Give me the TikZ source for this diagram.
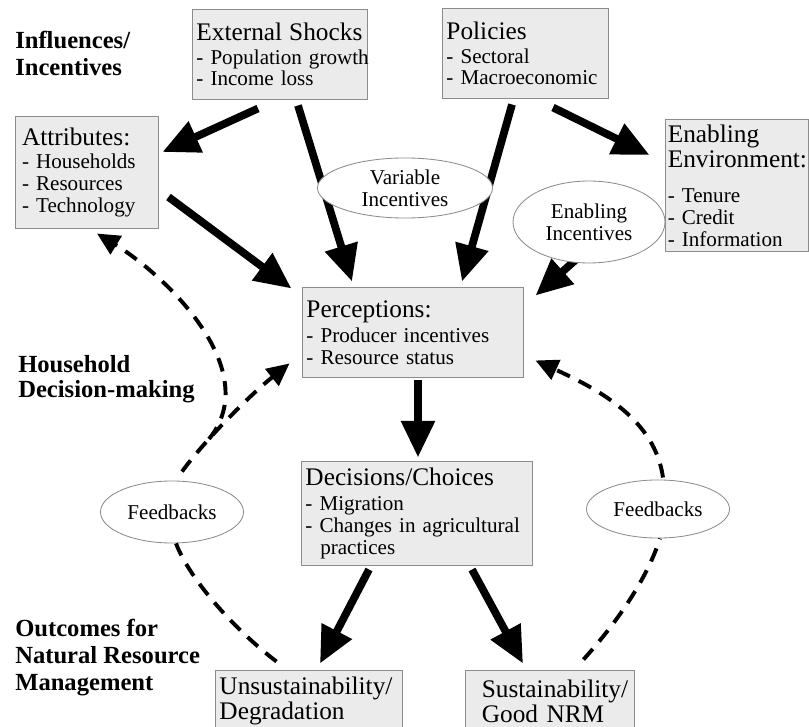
\documentclass[tikz,border=0pt]{standalone}
\usepackage{fontspec}
\setmainfont{Liberation Serif}
\usetikzlibrary{shapes,arrows.meta,calc,backgrounds}
\definecolor{boxgray}{RGB}{235,235,235}
\definecolor{edgegray}{RGB}{140,140,140}
\newcommand{\cardhead}{\fontsize{18}{18}\selectfont}
\hyphenpenalty=10000
\exhyphenpenalty=10000

\begin{document}
\begin{tikzpicture}[x=0.025cm,y=-0.025cm]

\tikzstyle{card} = [draw=edgegray, fill=boxgray, line width=0.7pt, rectangle,
    align=left, inner xsep=2.5pt, inner ysep=0pt,
    font=\fontsize{15}{15.4}\selectfont]
\tikzstyle{bubble} = [draw=edgegray, fill=white, ellipse, line width=0.6pt,
    inner sep=0pt, align=center, font=\fontsize{15}{15.4}\selectfont]
\tikzstyle{rowlabel} = [anchor=north west, inner sep=0pt, align=left,
    font=\bfseries\fontsize{17.5}{19}\selectfont]
\tikzstyle{bigarrow} = [line width=5.5pt, -{Triangle[length=26pt,width=23pt]}]
\tikzstyle{dashline} = [line width=2.8pt, dash pattern=on 10pt off 7pt]
\tikzstyle{dasharrow} = [dashline, -{Triangle[length=16pt,width=15pt]}]

\useasboundingbox (0,0) rectangle (809,727);
\clip (0,0) rectangle (809,727);

% =========================
% row labels (left)
% =========================
\node[rowlabel] (lblinf) at (15,31) {Influences/\\Incentives};
\node[rowlabel] (lblhh) at (18,355) {Household\\[-1.4pt]Decision-making};
\node[rowlabel] (lblout) at (15,619) {Outcomes for\\Natural Resource\\Management};

% =========================
% influences - first row
% =========================
\node[card, minimum width=123.8pt, minimum height=63.3pt, text width=118.8pt] (ext) at (280,54.5)
    {{\cardhead External Shocks}\\[1.5pt] -~Population~growth\\ -~Income~loss};
\node[card, minimum width=117.4pt, minimum height=63.3pt, text width=112.4pt] (pol) at (525.5,53.5)
    {{\cardhead Policies}\\[1.5pt] -~Sectoral\\ -~Macroeconomic};

\node[card, inner xsep=5pt, minimum width=101.7pt, minimum height=79pt, text width=91.7pt] (attr) at (86.5,172.5)
    {{\cardhead Attributes:}\\[1pt] -~Households\\ -~Resources\\ -~Technology};
\node[card, inner xsep=2pt, minimum width=101.7pt, minimum height=93.2pt, text width=97.7pt] (env) at (736.5,185.5)
    {{\cardhead Enabling\\[1pt] Environment:}\\[10pt] -~Tenure\\ -~Credit\\ -~Information};

% =========================
% household decision-making
% =========================
\node[card, minimum width=156.5pt, minimum height=64.7pt, text width=151.5pt] (perc) at (413,332.5)
    {{\cardhead Perceptions:}\\[3pt] -~Producer~incentives\\ -~Resource~status};
\node[card, minimum width=163.6pt, minimum height=73.3pt, text width=158.6pt] (dec) at (417,513.5)
    {{\cardhead Decisions/Choices}\\[2.4pt] -~Migration\\ -~Changes~in~agricultural\\ \hspace*{10.5pt}practices};

% =========================
% outcomes - bottom row
% =========================
\node[card, font=\fontsize{18}{17.8}\selectfont, minimum width=132.3pt, minimum height=44.1pt, text width=127.3pt] (unsus) at (309,701)
    {Unsustainability/\\Degradation};
\node[card, font=\fontsize{18}{17.8}\selectfont, inner xsep=4pt, minimum width=120.2pt, minimum height=44.1pt, text width=112.2pt] (sus) at (549.5,701)
    {\hspace*{8pt}Sustainability/\\\hspace*{8pt}Good~NRM};

\node[bubble, minimum width=101.7pt, minimum height=44.1pt] (fbl) at (172,512) {Feedbacks};
\node[bubble, minimum width=101.7pt, minimum height=41.3pt] (fbr) at (658,509) {Feedbacks};

% =========================
% thick arrows
% =========================
\draw[bigarrow] ([shift={(-22,9)}]ext.south) -- ([shift={(4,-20.5)}]attr.east);
\draw[bigarrow] ([shift={(18,6)}]ext.south) -- ([shift={(-61,-5)}]perc.north);
\draw[bigarrow] ([shift={(-13.5,6)}]pol.south) -- ([shift={(49,-5)}]perc.north);
\draw[bigarrow] ([shift={(27.5,9)}]pol.south) -- ([shift={(-15,-30.5)}]env.west);
\draw[bigarrow] ([shift={(10,24.5)}]attr.east) -- ([shift={(-11,2)}]perc.north west);
\draw[bigarrow] ([shift={(-18,11.5)}]env.west) -- ([shift={(12,9)}]perc.north east);
\draw[bigarrow] ([shift={(5,2)}]perc.south) -- ([shift={(1,-4)}]dec.north);
\draw[bigarrow] ([shift={(-48,4)}]dec.south) -- ([shift={(11,-6)}]unsus.north);
\draw[bigarrow] ([shift={(55,4)}]dec.south) -- ([shift={(-26.5,-6)}]sus.north);

% =========================
% dashed feedbacks
% =========================
\coordinate (split) at (209,439);
\draw[dashline] ([shift={(61,-8)}]unsus.north west) .. controls (235,630) and (190,580) .. ([shift={(4,0)}]fbl.south);
\draw[dasharrow] ([shift={(10,-9)}]fbl.north) .. controls (205,440) and (250,395) .. ([shift={(-13,-15)}]perc.south west);
\draw[dasharrow] (split) .. controls (265,370) and (165,275) .. ([shift={(10.5,5)}]attr.south);
\draw[dashline] ([shift={(-51,-10)}]sus.north east) .. controls (610,630) and (645,585) .. ([shift={(2,0)}]fbr.south);
\draw[dasharrow] ([shift={(5,-2)}]fbr.north) .. controls (655,420) and (600,390) .. ([shift={(12,-18)}]perc.south east);

% incentive labels on top of the arrows
\node[bubble, minimum width=124.5pt, minimum height=42.7pt] (varinc) at (405,188) {Variable\\Incentives};
\node[bubble, minimum width=108.1pt, minimum height=58.3pt] (enainc) at (589,222) {Enabling\\Incentives};

\end{tikzpicture}
\end{document}
